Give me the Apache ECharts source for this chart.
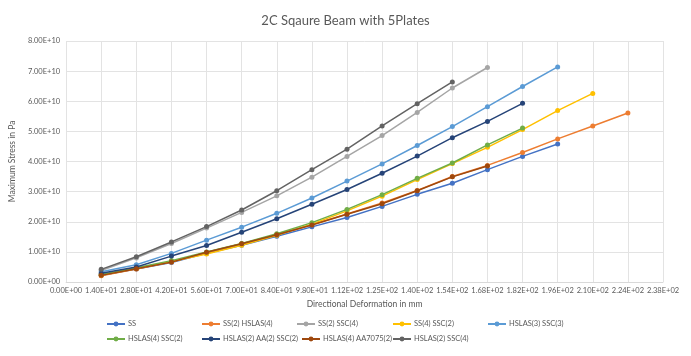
<!DOCTYPE html>
<html>
<head>
<meta charset="utf-8">
<script src="https://cdn.jsdelivr.net/npm/echarts@6/dist/echarts.min.js"></script>
<style>
  html, body { margin: 0; padding: 0; background: #ffffff; }
  #chart { width: 691px; height: 356px; }
</style>
</head>
<body>
<div id="chart"></div>
<script>
// Directional deformation (mm) at each load step
const deformation = [14, 28, 42, 56, 70, 84, 98, 112, 126, 140, 154, 168, 182, 196, 210, 224];

// Tick labels along the deformation axis (0 to 238, step 14)
const xTickLabels = ['0.00E+00', '1.40E+01', '2.80E+01', '4.20E+01', '5.60E+01', '7.00E+01',
                     '8.40E+01', '9.80E+01', '1.12E+02', '1.25E+02', '1.40E+02', '1.54E+02',
                     '1.68E+02', '1.82E+02', '1.96E+02', '2.10E+02', '2.24E+02', '2.38E+02'];
// Tick labels along the stress axis (0 to 8e10, step 1e10)
const yTickLabels = ['0.00E+00', '1.00E+10', '2.00E+10', '3.00E+10', '4.00E+10',
                     '5.00E+10', '6.00E+10', '7.00E+10', '8.00E+10'];

// Maximum stress (Pa) per plate configuration
const ss             = [0.22e10, 0.43e10, 0.65e10, 0.95e10, 1.22e10, 1.52e10, 1.83e10, 2.14e10, 2.51e10, 2.91e10, 3.28e10, 3.73e10, 4.17e10, 4.58e10];
const ss2Hslas4      = [0.21e10, 0.43e10, 0.66e10, 0.98e10, 1.27e10, 1.57e10, 1.90e10, 2.26e10, 2.62e10, 3.04e10, 3.50e10, 3.87e10, 4.30e10, 4.75e10, 5.18e10, 5.61e10];
const ss2Ssc4        = [0.38e10, 0.80e10, 1.28e10, 1.79e10, 2.31e10, 2.86e10, 3.48e10, 4.17e10, 4.86e10, 5.63e10, 6.44e10, 7.12e10];
const ss4Ssc2        = [0.23e10, 0.45e10, 0.68e10, 0.93e10, 1.22e10, 1.55e10, 1.92e10, 2.36e10, 2.85e10, 3.40e10, 3.93e10, 4.47e10, 5.06e10, 5.69e10, 6.26e10];
const hslas3Ssc3     = [0.34e10, 0.57e10, 0.95e10, 1.39e10, 1.82e10, 2.28e10, 2.79e10, 3.35e10, 3.92e10, 4.53e10, 5.16e10, 5.82e10, 6.49e10, 7.14e10];
const hslas4Ssc2     = [0.25e10, 0.47e10, 0.71e10, 1.00e10, 1.28e10, 1.60e10, 1.97e10, 2.41e10, 2.90e10, 3.44e10, 3.95e10, 4.55e10, 5.11e10];
const hslas2Aa2Ssc2  = [0.29e10, 0.50e10, 0.86e10, 1.21e10, 1.65e10, 2.10e10, 2.58e10, 3.07e10, 3.61e10, 4.18e10, 4.79e10, 5.33e10, 5.93e10];
const hslas4Aa7075   = [0.22e10, 0.44e10, 0.66e10, 0.99e10, 1.27e10, 1.57e10, 1.89e10, 2.25e10, 2.60e10, 3.03e10, 3.49e10, 3.85e10];
const hslas2Ssc4     = [0.42e10, 0.84e10, 1.33e10, 1.84e10, 2.39e10, 3.03e10, 3.73e10, 4.41e10, 5.18e10, 5.92e10, 6.64e10];

const seriesNames = ['SS', 'SS(2) HSLAS(4)', 'SS(2) SSC(4)', 'SS(4) SSC(2)', 'HSLAS(3) SSC(3)',
                     'HSLAS(4) SSC(2)', 'HSLAS(2) AA(2) SSC(2)', 'HSLAS(4) AA7075(2)', 'HSLAS(2) SSC(4)'];
const seriesValues = [ss, ss2Hslas4, ss2Ssc4, ss4Ssc2, hslas3Ssc3, hslas4Ssc2, hslas2Aa2Ssc2, hslas4Aa7075, hslas2Ssc4];
const colors = ['#4472C4', '#ED7D31', '#A5A5A5', '#FFC000', '#5B9BD5', '#70AD47', '#264478', '#9E480E', '#636363'];

// Legend placement: two rows
const legendSlots = [
  [106, 320], [201, 320], [296, 320], [392, 320], [487, 320],
  [106, 335], [201, 335], [301, 335], [392, 335]
];

const FONT = 'Lato, "Open Sans", sans-serif';

const X_STEP = 14;
const Y_STEP = 1e10;

const chart = echarts.init(document.getElementById('chart'), null, { renderer: 'canvas' });

const series = seriesNames.map((name, i) => ({
  name: name,
  type: 'line',
  data: seriesValues[i].map((v, k) => [deformation[k], v]),
  symbol: 'circle',
  symbolSize: 5,
  color: colors[i],
  lineStyle: { width: 1.5, color: colors[i] },
  itemStyle: { color: colors[i] },
  z: 2 + i,
  animation: false
}));

const legends = seriesNames.map((name, i) => ({
  data: [name],
  left: legendSlots[i][0],
  top: legendSlots[i][1],
  orient: 'horizontal',
  itemWidth: 18,
  itemHeight: 6,
  itemGap: 4,
  padding: 0,
  selectedMode: false,
  textStyle: { fontFamily: FONT, fontSize: 7.5, color: '#595959', padding: [0, 0, 0, -2] }
}));

chart.setOption({
  backgroundColor: '#ffffff',
  animation: false,
  title: {
    text: '2C Sqaure Beam with 5Plates',
    left: 'center',
    top: 9,
    textStyle: { fontFamily: FONT, fontSize: 13, fontWeight: 'normal', color: '#595959' }
  },
  legend: legends,
  grid: { left: 61, right: 28, top: 41, bottom: 74, containLabel: false },
  xAxis: {
    type: 'value',
    min: 0,
    max: 238,
    interval: X_STEP,
    name: 'Directional Deformation in mm',
    nameLocation: 'middle',
    nameGap: 18,
    nameTextStyle: { fontFamily: FONT, fontSize: 8.5, color: '#595959' },
    axisLine: { show: true, lineStyle: { color: '#D9D9D9' } },
    axisTick: { show: false },
    axisLabel: {
      fontFamily: FONT, fontSize: 7.5, color: '#595959', margin: 5,
      formatter: v => xTickLabels[Math.round(v / X_STEP)]
    },
    splitLine: { show: true, lineStyle: { color: '#E3E3E3', width: 1 } }
  },
  yAxis: {
    type: 'value',
    min: 0,
    max: 8e10,
    interval: Y_STEP,
    name: 'Maximum Stress in Pa',
    nameLocation: 'middle',
    nameRotate: 90,
    nameGap: 46,
    nameTextStyle: { fontFamily: FONT, fontSize: 8.5, color: '#595959' },
    axisLine: { show: false },
    axisTick: { show: false },
    axisLabel: {
      fontFamily: FONT, fontSize: 7.5, color: '#595959', margin: 6,
      formatter: v => yTickLabels[Math.round(v / Y_STEP)]
    },
    splitLine: { show: true, lineStyle: { color: '#E3E3E3', width: 1 } }
  },
  series: series
});
</script>
</body>
</html>
